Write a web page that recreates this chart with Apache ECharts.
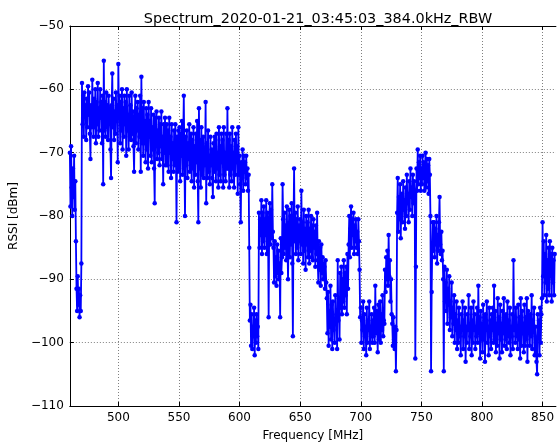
<!DOCTYPE html>
<html>
<head>
<meta charset="utf-8">
<script src="https://cdn.jsdelivr.net/npm/echarts@6/dist/echarts.min.js"></script>
<style>
  html, body { margin: 0; padding: 0; background: #fff; }
  #chart { width: 557px; height: 447px; }
</style>
</head>
<body>
<div id="chart"></div>
<script>
// spectrum sweep, one sample every 0.5 MHz starting at 460 MHz
const freqStart = 460;
const freqStep = 0.5;
const rssi = [
  -70, -78.5, -69, -75.5, -80, -72.5, -77, -70.5, -79, -74.5, -84, -91.5, -95, -89.5, -94, -91.5, -96, -92.5, -95, -87.5,             // 460
  -59, -65.5, -61, -67.5, -60.5, -64, -62.5, -68, -61.5, -66, -59.5, -64, -60.5, -67, -71, -62.5, -66, -58.5, -63, -67.5,             // 470
  -61.5, -66, -60, -68.5, -62, -65.5, -59, -67.5, -63, -66.5, -60, -64.5, -62, -68.5, -61, -75, -55.5, -66.5, -62, -67.5,             // 480
  -60.5, -66, -62.5, -68, -61, -65.5, -63, -69.5, -74, -62.5, -57.5, -66, -61.5, -68, -63.5, -67, -60.5, -65, -62.5, -71.5,           // 490
  -56, -64.5, -61, -68.5, -62, -66.5, -60, -69.5, -63, -67.5, -61, -65.5, -62, -70.5, -60, -66.5, -64, -69.5, -61, -67.5,             // 500
  -62.5, -68, -60.5, -67, -63.5, -69, -73, -64.5, -61, -68.5, -63, -66.5, -62, -69.5, -64, -67.5, -61, -73, -58, -68.5,               // 510
  -63, -70.5, -62, -68.5, -65, -71.5, -63, -69.5, -64, -72.5, -62, -67.5, -65, -70.5, -63, -71.5, -66, -69.5, -64, -72.5,             // 520
  -78, -64.5, -69, -63.5, -71, -66.5, -70, -64.5, -72, -65.5, -69, -63.5, -71, -67.5, -75, -65.5, -70, -64.5, -72, -67.5,             // 530
  -65.5, -72, -66.5, -73, -64.5, -70, -67.5, -74, -65.5, -71, -68.5, -73, -66.5, -72, -65.5, -70, -81, -67.5, -73, -66.5,             // 540
  -72.5, -66, -74.5, -67, -70.5, -65, -73.5, -68, -61, -71.5, -80, -67.5, -72, -66.5, -74, -68.5, -71, -65.5, -73, -69.5,             // 550
  -67, -74.5, -68, -72.5, -66, -75.5, -69, -73.5, -67, -71.5, -65, -74.5, -81, -63, -72.5, -68, -75.5, -66, -73.5, -69,               // 560
  -67.5, -74, -69.5, -72, -62, -78, -68.5, -74, -66.5, -73, -70.5, -75, -67.5, -72, -69.5, -74, -77, -68.5, -73, -67.5,               // 570
  -68, -74.5, -67, -72.5, -70, -75.5, -66, -73.5, -69, -74.5, -67, -71.5, -68, -75.5, -66, -73.5, -70, -74.5, -67, -72.5,             // 580
  -63, -72.5, -68, -75.5, -67, -73.5, -69, -74.5, -66, -72.5, -70, -75.5, -68, -73.5, -67, -71.5, -69, -76.5, -66, -73.5,             // 590
  -70.5, -75, -81, -71.5, -74, -69.5, -76, -70.5, -73, -71.5, -75, -70.5, -74, -72.5, -76, -73.5, -85, -96.5, -94, -100.5,            // 600
  -95.5, -101, -97.5, -99, -94.5, -102, -96.5, -100, -95.5, -99, -97.5, -101, -79.5, -85, -80.5, -83, -77.5, -86, -79.5, -84,         // 610
  -78.5, -85, -80.5, -83, -77.5, -86, -79.5, -82, -96, -80.5, -78, -84.5, -79, -83.5, -75, -82.5, -85, -90.5, -84, -89.5,             // 620
  -86.5, -91, -84.5, -89, -85.5, -90, -87.5, -96, -83.5, -89, -86.5, -75, -80.5, -86, -79.5, -85, -81.5, -87, -78.5, -84,             // 630
  -90, -82.5, -79, -86.5, -80, -84.5, -78, -87.5, -99, -81.5, -72.5, -84, -79.5, -86, -80.5, -85, -78.5, -87, -81.5, -84,             // 640
  -80.5, -86, -76, -84.5, -81, -87.5, -79, -85.5, -82, -88.5, -80, -84.5, -81, -86.5, -79, -87.5, -82, -85.5, -80, -86.5,             // 650
  -81.5, -87, -80.5, -85, -82.5, -88, -81.5, -86, -79.5, -87, -90.5, -84, -88.5, -85, -91, -84.5, -89, -86.5, -90, -87.5,             // 660
  -88, -91.5, -87, -90.5, -93, -98.5, -92, -100.5, -95, -97.5, -91, -99.5, -94, -101, -93.5, -98, -96.5, -100, -92.5, -97,            // 670
  -95.5, -101, -87, -96.5, -93, -99.5, -89, -94.5, -88, -95.5, -90, -93.5, -87, -94.5, -89, -92.5, -88, -95.5, -86, -91.5,            // 680
  -84.5, -80, -86.5, -82, -78.5, -85, -80.5, -83, -79.5, -86, -81.5, -84, -80.5, -85, -82.5, -86, -80.5, -84, -88.5, -96,             // 690
  -94.5, -100, -96.5, -98, -93.5, -101, -95.5, -99, -97.5, -102, -94.5, -100, -96.5, -98, -93.5, -101, -97.5, -99, -95.5, -100,       // 700
  -96.5, -99, -94.5, -100, -91, -98.5, -95, -97.5, -101.5, -94, -99.5, -96, -93.5, -100, -95.5, -98, -92.5, -99, -96.5, -97,          // 710
  -88.5, -92, -86.5, -90, -85.5, -91, -83, -89.5, -87, -93.5, -90, -95.5, -97, -100.5, -96, -99.5, -101, -97.5, -104.5, -98,          // 720
  -79.5, -74, -82.5, -77, -80.5, -75, -83.5, -78, -76.5, -81, -74.5, -79, -77.5, -82, -75.5, -80, -73.5, -78, -76.5, -81,             // 730
  -74.5, -79, -72.5, -77, -75.5, -80, -73.5, -78, -74.5, -76, -102.5, -88, -72.5, -76, -69.5, -75, -71.5, -74, -70.5, -76,            // 740
  -72.5, -75, -70.5, -74, -71.5, -76, -73.5, -70, -75.5, -71, -74.5, -72, -76.5, -71, -73.5, -80, -104.5, -92, -84.5, -81,            // 750
  -85.5, -81, -86.5, -82, -84.5, -80, -87.5, -83, -85.5, -81, -77, -84.5, -86, -82.5, -87, -85.5, -90, -104.5, -88, -93.5,            // 760
  -90.5, -95, -88.5, -97, -91.5, -94, -89.5, -98, -93.5, -96, -90.5, -99, -94.5, -97, -92.5, -100, -95.5, -98, -93.5, -101,           // 770
  -96.5, -100, -94.5, -99, -97.5, -102, -95.5, -98, -93.5, -101, -96.5, -99, -94.5, -103, -97.5, -100, -95.5, -98, -92.5, -101,       // 780
  -97.5, -99, -94.5, -102, -96.5, -100, -93.5, -98, -95.5, -101, -97.5, -99, -94.5, -100, -91, -98.5, -96, -102.5, -95, -99.5,        // 790
  -97, -101.5, -94, -99.5, -96, -103, -95.5, -98, -93.5, -100, -97.5, -102, -94.5, -99, -96.5, -101, -95.5, -98, -94.5, -100,         // 800
  -91, -99.5, -95, -101.5, -97, -100.5, -93, -98.5, -96, -102.5, -94, -99.5, -97, -101.5, -95, -98.5, -93, -100.5, -96, -99.5,        // 810
  -95.5, -101, -93.5, -99, -96.5, -100, -94.5, -102, -97.5, -99, -95.5, -101, -87, -98, -96.5, -100, -94.5, -99, -97.5, -101,         // 820
  -94, -99.5, -96, -102.5, -93, -100.5, -95, -98.5, -97, -101.5, -94, -100.5, -96, -99.5, -93, -103, -95, -98.5, -96, -100.5,         // 830
  -95.5, -99, -92.5, -101, -96.5, -98, -94.5, -102, -97.5, -100, -103, -105, -95.5, -99, -96.5, -102, -94.5, -100, -95.5, -93,        // 840
  -81, -89.5, -84, -92.5, -86, -90.5, -83, -93.5, -87, -91.5, -85, -92.5, -84, -89.5, -86, -93.5, -85, -90.5, -87, -92.5,             // 850
  -86                                                                                                                                 // 860
];
const xTicks = [500, 550, 600, 650, 700, 750, 800, 850];

const points = rssi.map((v, i) => [freqStart + i * freqStep, v]);

const fmtMinus = v => String(v).replace('-', '\u2212');
const font = 'DejaVu Sans';
const frameColor = '#000';
const gridLine = { show: true, lineStyle: { color: '#808080', type: [1, 2], width: 1 } };

const chart = echarts.init(document.getElementById('chart'), null, { renderer: 'canvas' });

chart.setOption({
  animation: false,
  backgroundColor: '#fff',
  title: {
    text: 'Spectrum_2020-01-21_03:45:03_384.0kHz_RBW',
    left: 313,
    textAlign: 'center',
    top: 7,
    textStyle: { fontFamily: font, fontSize: 14.4, fontWeight: 'normal', color: '#000' }
  },
  grid: { left: 69, right: -1, top: 26, bottom: 41 },
  xAxis: [{
    type: 'value',
    min: 460,
    max: 861,
    name: 'Frequency [MHz]',
    nameLocation: 'middle',
    nameGap: 24,
    nameTextStyle: { fontFamily: font, fontSize: 12, color: '#000' },
    axisLine: { show: true, lineStyle: { color: frameColor, width: 1 } },
    axisTick: { show: true, inside: true, length: 4, lineStyle: { color: frameColor },
      customValues: xTicks },
    axisLabel: { fontFamily: font, fontSize: 12, color: '#000', margin: 6,
      customValues: xTicks },
    splitLine: gridLine
  }, {
    type: 'value',
    position: 'top',
    min: 460,
    max: 861,
    axisLine: { show: true, onZero: false, lineStyle: { color: frameColor, width: 1 } },
    axisTick: { show: true, inside: true, length: 4, lineStyle: { color: frameColor },
      customValues: xTicks },
    axisLabel: { show: false },
    splitLine: { show: false }
  }],
  yAxis: [{
    type: 'value',
    min: -110,
    max: -50,
    interval: 10,
    name: 'RSSI [dBm]',
    nameLocation: 'middle',
    nameGap: 46,
    nameRotate: 90,
    nameTextStyle: { fontFamily: font, fontSize: 12, color: '#000' },
    axisLine: { show: true, onZero: false, lineStyle: { color: frameColor, width: 1 } },
    axisTick: { show: true, inside: true, length: 4, lineStyle: { color: frameColor } },
    axisLabel: { fontFamily: font, fontSize: 12, color: '#000', margin: 6, formatter: fmtMinus },
    splitLine: gridLine
  }],
  series: [{
    type: 'line',
    data: points,
    symbol: 'circle',
    symbolSize: 4.5,
    showSymbol: true,
    lineStyle: { color: '#0000ff', width: 1.8 },
    itemStyle: { color: '#0000ff', borderWidth: 0 },
    emphasis: { disabled: true }
  }]
});
</script>
</body>
</html>
